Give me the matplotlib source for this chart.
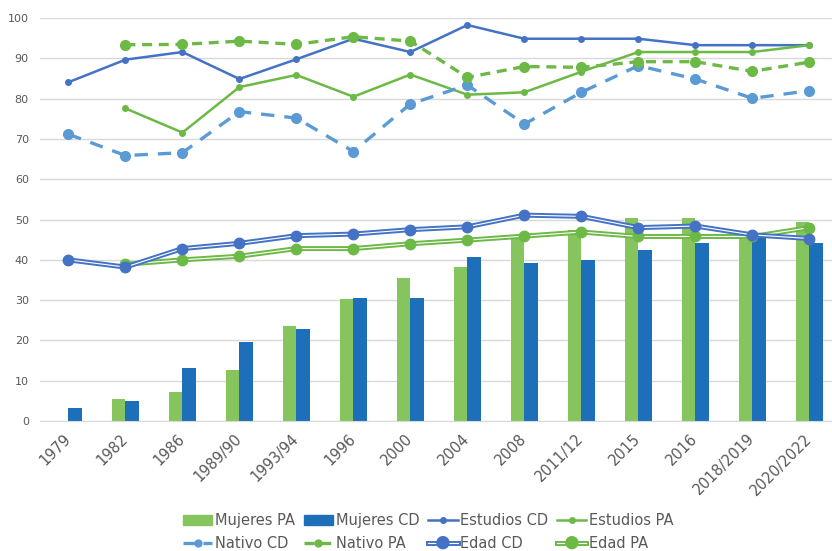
import numpy as np
import matplotlib.pyplot as plt
import matplotlib.patheffects as pe
from matplotlib.lines import Line2D

anios = ["1979", "1982", "1986", "1989/90", "1993/94", "1996", "2000", "2004",
         "2008", "2011/12", "2015", "2016", "2018/2019", "2020/2022"]

mujeres_pa = [np.nan, 5.4, 7.2, 12.7, 23.6, 30.3, 35.6, 38.3, 46.0, 47.5, 50.4, 50.4, 46.5, 49.3]
mujeres_cd = [3.2, 5.0, 13.1, 19.5, 22.8, 30.5, 30.5, 40.8, 39.3, 40.0, 42.5, 44.2, 46.2, 44.2]
estudios_cd = [84.1, 89.7, 91.6, 84.9, 89.8, 94.9, 91.6, 98.3, 94.9, 94.9, 94.9, 93.3, 93.3, 93.3]
estudios_pa = [np.nan, 77.6, 71.6, 82.9, 85.9, 80.5, 86.0, 81.0, 81.6, 86.7, 91.6, 91.6, 91.6, 93.3]
nativo_cd = [71.2, 65.9, 66.6, 76.8, 75.2, 66.9, 78.7, 83.4, 73.7, 81.6, 88.2, 84.9, 80.1, 82.0]
nativo_pa = [np.nan, 93.4, 93.5, 94.3, 93.5, 95.4, 94.3, 85.3, 88.0, 87.8, 89.2, 89.2, 86.8, 89.1]
edad_cd = [40.0, 38.2, 42.8, 44.1, 46.0, 46.4, 47.5, 48.2, 51.1, 50.8, 48.0, 48.4, 46.2, 45.3]
edad_pa = [np.nan, 38.9, 40.0, 40.9, 42.8, 42.8, 44.0, 44.9, 45.9, 46.9, 45.8, 45.8, 45.8, 48.0]

verde_barra = "#86C55E"
azul_barra = "#1E6FB9"
azul = "#4472C4"
verde = "#6DB946"
azul_claro = "#5B9BD5"
gris = "#595959"

x = np.arange(len(anios))
fig = plt.figure(figsize=(8.32, 5.51), dpi=100)
ax = fig.add_axes([0.048, 0.236, 0.959, 0.731])

w = 0.24
ax.bar(x - w/2, mujeres_pa, w, color=verde_barra, zorder=2)
ax.bar(x + w/2, mujeres_cd, w, color=azul_barra, zorder=2)

ax.plot(x, estudios_cd, color=azul, lw=1.8, marker="o", ms=4, zorder=4)
ax.plot(x, estudios_pa, color=verde, lw=1.8, marker="o", ms=4, zorder=4)
ax.plot(x, nativo_cd, color=azul_claro, lw=2.4, ls=(0, (4, 3)), marker="o", ms=7, zorder=4)
ax.plot(x, nativo_pa, color=verde, lw=2.4, ls=(0, (3, 2)), marker="o", ms=7, zorder=4)

doble = lambda c: [pe.Stroke(linewidth=3.6, foreground=c), pe.Normal()]
for serie, c in [(edad_pa, verde), (edad_cd, azul)]:
    ax.plot(x, serie, color="white", lw=0.8, path_effects=doble(c), zorder=3)
    ax.plot(x, serie, color=c, ls="none", marker="o", ms=7.5, zorder=3)

ax.set_xlim(-0.5, len(anios) - 0.5)
ax.set_ylim(0, 100)
ax.set_yticks(np.arange(0, 101, 10))
ax.set_xticks(x)
ax.set_xticklabels(anios, rotation=45, ha="right", va="center", rotation_mode="anchor")
ax.tick_params(axis="both", length=0, colors=gris)
ax.tick_params(axis="y", labelsize=8, pad=8)
ax.tick_params(axis="x", labelsize=10.5, pad=11)
ax.grid(axis="y", color="#D9D9D9", lw=1, zorder=0)
for s in ["top", "right", "left"]:
    ax.spines[s].set_visible(False)
ax.spines["bottom"].set_color("#D9D9D9")

h = {
    "Mujeres PA": plt.Rectangle((0, 0), 1, 1, color=verde_barra),
    "Mujeres CD": plt.Rectangle((0, 0), 1, 1, color=azul_barra),
    "Estudios CD": Line2D([], [], color=azul, lw=1.8, marker="o", ms=4),
    "Estudios PA": Line2D([], [], color=verde, lw=1.8, marker="o", ms=4),
    "Nativo CD": Line2D([], [], color=azul_claro, lw=2.4, ls=(0, (4, 2)), marker="o", ms=5),
    "Nativo PA": Line2D([], [], color=verde, lw=2.4, ls=(0, (3, 2)), marker="o", ms=5),
    "Edad CD": Line2D([], [], color="white", lw=0.8, marker="o", ms=6, mfc=azul, mec=azul,
                      path_effects=doble(azul)),
    "Edad PA": Line2D([], [], color="white", lw=0.8, marker="o", ms=6, mfc=verde, mec=verde,
                      path_effects=doble(verde)),
}
orden = ["Mujeres PA", "Nativo CD", "Mujeres CD", "Nativo PA",
         "Estudios CD", "Edad CD", "Estudios PA", "Edad PA"]
fig.legend([h[k] for k in orden], orden, loc="lower center", bbox_to_anchor=(0.515, -0.023),
           ncol=4, frameon=False, fontsize=10.5, labelcolor=gris, handlelength=2.0,
           handleheight=0.6, handletextpad=0.2, columnspacing=0.6, labelspacing=0.5)

plt.savefig("out.png", dpi=100)
